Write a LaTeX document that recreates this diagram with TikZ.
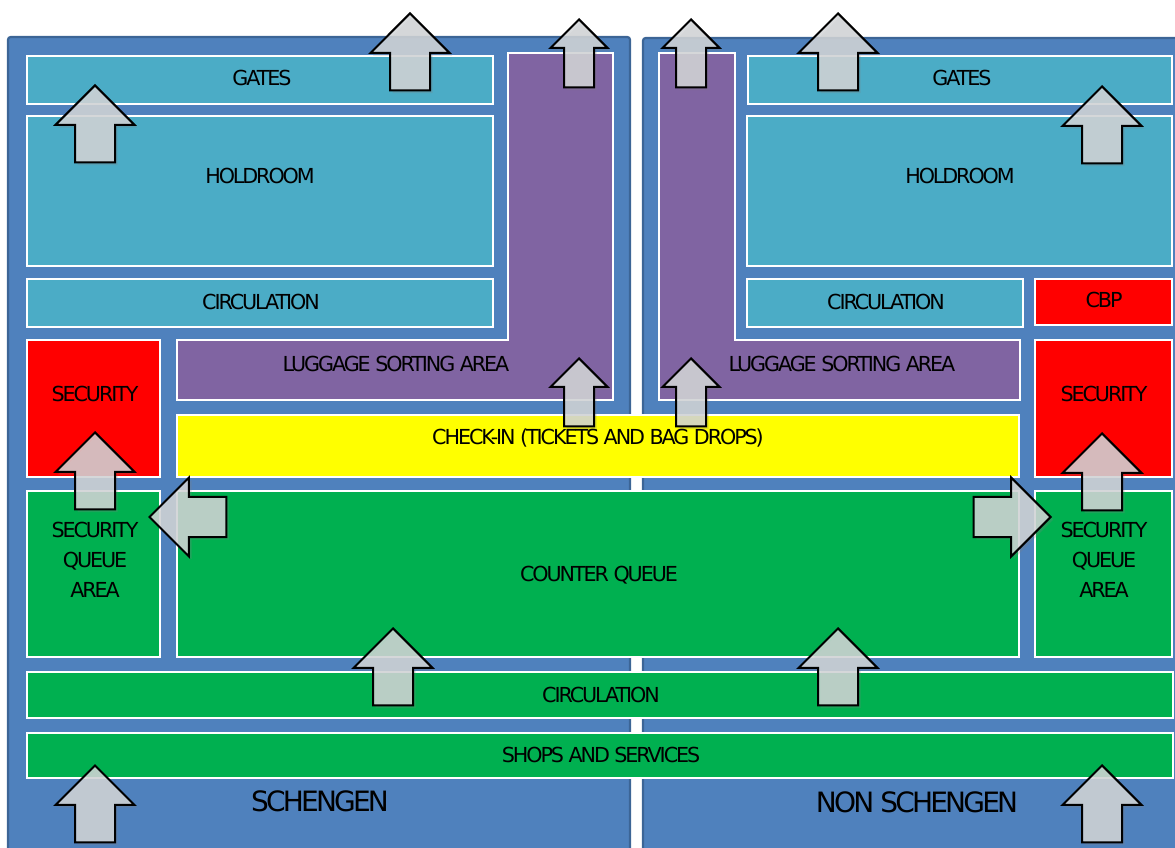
\documentclass[tikz,border=0pt]{standalone}
\usepackage{fontspec}
\setmainfont{DejaVu Sans}[LetterSpace=-10]
\usetikzlibrary{shapes.arrows,shadows}
\definecolor{panelblue}{HTML}{4F81BD}
\definecolor{paneledge}{HTML}{3C6596}
\definecolor{zoneteal}{HTML}{4BACC6}
\definecolor{zonepurple}{HTML}{8064A2}
\definecolor{zonered}{HTML}{FF0000}
\definecolor{zoneyellow}{HTML}{FFFF00}
\definecolor{zonegreen}{HTML}{00B050}
\definecolor{flowgray}{HTML}{D4D6D8}

\begin{document}
\begin{tikzpicture}[x=0.75pt, y=-0.75pt,
  panel/.style={fill=panelblue, draw=paneledge, line width=1.6pt, rounded corners=2pt},
  zone/.style={fill=#1, draw=white, line width=1.4pt},
  lbl/.style={font=\fontsize{15.5}{22.5}\selectfont, align=center, inner sep=0pt},
  side/.style={font=\fontsize{21}{26}\selectfont, inner sep=0pt},
  flow/.style={single arrow, single arrow tip angle=90, single arrow head indent=0pt,
    draw=black, line width=1.5pt, fill=flowgray, fill opacity=0.85, inner xsep=0pt, anchor=tip,
    drop shadow={opacity=0.25, shadow xshift=2pt, shadow yshift=-2pt}},
  bigflow/.style={flow, inner ysep=14.25pt, minimum height=57.75pt, single arrow head extend=14.6pt},
  smallflow/.style={flow, inner ysep=10.5pt, minimum height=51pt, single arrow head extend=10.1pt}]
\clip (0,0) rectangle (1175,848);

% two terminal halves
\path[panel] (8,37) rectangle (630,880);
\path[panel] (643,38) rectangle (1200,880);

% schengen side
\path[zone=zoneteal] (27,56) rectangle (493,104);
\path[zone=zoneteal] (27,116) rectangle (493,266);
\path[zone=zoneteal] (27,279) rectangle (493,327);
\path[zone=zonepurple] (508,53) -- (613,53) -- (613,400) -- (177,400) -- (177,340) -- (508,340) -- cycle;
\path[zone=zonered] (27,340) rectangle (160,477);
\path[zone=zonegreen] (27,491) rectangle (160,657);

% non schengen side
\path[zone=zonepurple] (659,53) -- (735,53) -- (735,340) -- (1020,340) -- (1020,400) -- (659,400) -- cycle;
\path[zone=zoneteal] (748,56) rectangle (1172,104);
\path[zone=zoneteal] (747,116) rectangle (1172,266);
\path[zone=zoneteal] (747,279) rectangle (1023,327);
\path[zone=zonered] (1035,279) rectangle (1172,325);
\path[zone=zonered] (1035,340) rectangle (1172,477);
\path[zone=zonegreen] (1035,491) rectangle (1172,657);

% shared bands
\path[zone=zoneyellow] (177,415) rectangle (1019,477);
\path[zone=zonegreen] (177,491) rectangle (1019,657);
\path[zone=zonegreen] (27,672) rectangle (1173,718);
\path[zone=zonegreen] (27,733) rectangle (1173,778);

% labels
\node[lbl] (gatesS) at (262,78) {GATES};
\node[lbl] (gatesN) at (962,78) {GATES};
\node[lbl] (holdS) at (260,176) {HOLDROOM};
\node[lbl] (holdN) at (960,176) {HOLDROOM};
\node[lbl] (circS) at (261,302) {CIRCULATION};
\node[lbl] (circN) at (886,302) {CIRCULATION};
\node[lbl] (cbp) at (1104,300) {CBP};
\node[lbl] (lugS) at (396,364) {LUGGAGE SORTING AREA};
\node[lbl] (lugN) at (842,364) {LUGGAGE SORTING AREA};
\node[lbl] (secS) at (95,394) {SECURITY};
\node[lbl] (secN) at (1104,394) {SECURITY};
\node[lbl] (checkin) at (598,438) {CHECK-IN (TICKETS AND BAG DROPS)};
\node[lbl] (queueS) at (95,560) {SECURITY\\QUEUE\\AREA};
\node[lbl] (queueN) at (1104,560) {SECURITY\\QUEUE\\AREA};
\node[lbl] (counter) at (599,575) {COUNTER QUEUE};
\node[lbl] (circ) at (601,695) {CIRCULATION};
\node[lbl] (shops) at (601,755) {SHOPS AND SERVICES};
\node[side] (schengen) at (320,801) {SCHENGEN};
\node[side] (nonschengen) at (917,802) {NON SCHENGEN};

% passenger and bag flows
\node[bigflow, rotate=90] (f1) at (95,84) {};
\node[bigflow, rotate=90] (f2) at (410,12) {};
\node[bigflow, rotate=90] (f3) at (838,12) {};
\node[bigflow, rotate=90] (f4) at (1102,85) {};
\node[smallflow, rotate=90] (f5) at (579,18) {};
\node[smallflow, rotate=90] (f6) at (691,18) {};
\node[smallflow, rotate=90] (f7) at (579,357) {};
\node[smallflow, rotate=90] (f8) at (691,357) {};
\node[bigflow, rotate=90] (f9) at (95,431) {};
\node[bigflow, rotate=90] (f10) at (1102,432) {};
\node[bigflow, rotate=180] (f11) at (148,517) {};
\node[bigflow] (f12) at (1052,517) {};
\node[bigflow, rotate=90] (f13) at (393,627) {};
\node[bigflow, rotate=90] (f14) at (838,627) {};
\node[bigflow, rotate=90] (f15) at (95,764) {};
\node[bigflow, rotate=90] (f16) at (1102,764) {};
\end{tikzpicture}
\end{document}
